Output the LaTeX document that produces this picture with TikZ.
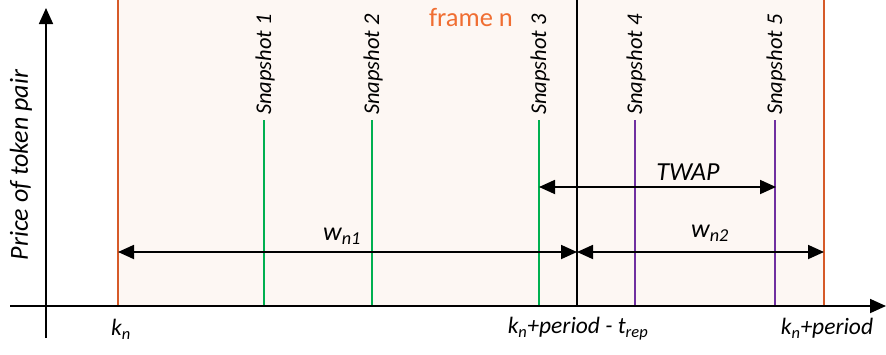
\documentclass[tikz,border=0pt]{standalone}
\usepackage{fontspec}
\setmainfont{Carlito}
\usetikzlibrary{arrows.meta}
\definecolor{frameorange}{RGB}{214,90,40}
\definecolor{labelorange}{RGB}{240,110,50}
\definecolor{framefill}{RGB}{253,247,243}
\definecolor{snapgreen}{RGB}{0,176,80}
\definecolor{snappurple}{RGB}{112,48,160}
\tikzset{
  tip/.tip={Triangle[length=16pt,width=14pt]},
  ax/.style={line width=1.8pt,-tip},
  dim/.style={line width=1.8pt,tip-tip},
  gsnap/.style={snapgreen,line width=1.8pt},
  psnap/.style={snappurple,line width=1.8pt},
  snaplbl/.style={font=\fontsize{22.5}{22.5}\selectfont\itshape,rotate=90,anchor=base west,inner sep=0pt},
  lbl/.style={font=\fontsize{26}{26}\selectfont\itshape,inner sep=0pt},
  tlbl/.style={font=\fontsize{23.5}{23.5}\selectfont\itshape,inner sep=0pt},
}
\begin{document}
\begin{tikzpicture}[x=1pt,y=-1pt]
\useasboundingbox (0,0) rectangle (886,354);
% frame
\fill[framefill] (118,-2) rectangle (824,306);
\draw[frameorange,line width=1.8pt] (118,-2) -- (118,306);
\draw[frameorange,line width=1.8pt] (824,-2) -- (824,306);
\node[font=\fontsize{26.5}{26.5}\selectfont,text=labelorange,inner sep=0pt] (fr) at (471,18) {frame n};
% separator
\draw[line width=1.8pt] (577,-2) -- (577,306);
% snapshots
\coordinate (s1t) at (264,120); \coordinate (s1b) at (264,306);
\coordinate (s2t) at (372,120); \coordinate (s2b) at (372,306);
\coordinate (s3t) at (539,120); \coordinate (s3b) at (539,306);
\coordinate (s4t) at (635,120); \coordinate (s4b) at (635,306);
\coordinate (s5t) at (775,120); \coordinate (s5b) at (775,306);
\draw[gsnap] (s1t) -- (s1b);
\draw[gsnap] (s2t) -- (s2b);
\draw[gsnap] (s3t) -- (s3b);
\draw[psnap] (s4t) -- (s4b);
\draw[psnap] (s5t) -- (s5b);
\node[snaplbl] (l1) at (271,115) {Snapshot 1};
\node[snaplbl] (l2) at (379,115) {Snapshot 2};
\node[snaplbl] (l3) at (546,115) {Snapshot 3};
\node[snaplbl] (l4) at (642,115) {Snapshot 4};
\node[snaplbl] (l5) at (782,115) {Snapshot 5};
% axes
\coordinate (xa) at (10,306); \coordinate (xb) at (886,306);
\coordinate (ya) at (46,338); \coordinate (yb) at (46,8);
\draw[ax] (xa) -- (xb);
\draw[ax] (ya) -- (yb);
\node[lbl,rotate=90] (ylab) at (21,165) {Price of token pair};
% dimension arrows
\coordinate (t1) at (539,187); \coordinate (t2) at (776,187);
\draw[dim] (t1) -- (t2);
\node[lbl] (twap) at (688,172) {TWAP};
\coordinate (w1a) at (118,252); \coordinate (w1b) at (577,252); \coordinate (w2b) at (824,252);
\draw[dim] (w1a) -- (w1b);
\draw[dim] (w1b) -- (w2b);
\node[lbl] (wn1) at (342,236) {w\textsubscript{n1}};
\node[lbl] (wn2) at (710,233) {w\textsubscript{n2}};
% tick labels
\node[tlbl] (k0) at (121,329) {k\textsubscript{n}};
\node[tlbl] (k1) at (578,329) {k\textsubscript{n}+period - t\textsubscript{rep}};
\node[tlbl] (k2) at (827,328) {k\textsubscript{n}+period};
\end{tikzpicture}
\end{document}
